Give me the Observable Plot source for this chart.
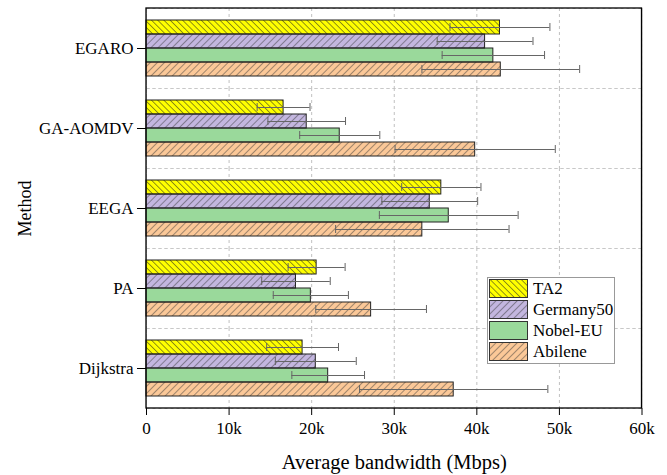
<!DOCTYPE html>
<html><head><meta charset="utf-8">
<script src="https://cdn.jsdelivr.net/npm/d3@7"></script>
<script src="https://cdn.jsdelivr.net/npm/@observablehq/plot@0.6"></script>
<style>
body{margin:0;background:#fff;}
#wrap{position:relative;width:667px;height:475px;}
#wrap svg text{font-family:"Liberation Serif","Times New Roman",Times,serif;}
#legend{position:absolute;left:487px;top:277px;width:128px;height:87px;border:1px solid #999;background:#fff;box-sizing:border-box;font-family:"Liberation Serif","Times New Roman",Times,serif;font-size:17px;padding:1px 0 0 1px;}
.row{display:flex;align-items:center;height:19px;margin-bottom:2px;}
.row span{font-family:"Liberation Serif","Times New Roman",Times,serif;font-size:17px;line-height:19px;}
.row svg{display:block;margin-right:5px;}
</style></head><body>
<svg width="0" height="0" style="position:absolute">
<defs>
<pattern id="hatchBack" patternUnits="userSpaceOnUse" width="4.4" height="4.4" patternTransform="rotate(-45)"><line x1="0" y1="0" x2="0" y2="4.4" stroke="#222" stroke-width="1"/></pattern>
<pattern id="hatchFwd" patternUnits="userSpaceOnUse" width="5" height="5" patternTransform="rotate(45)"><line x1="0" y1="0" x2="0" y2="5" stroke="#333" stroke-width="0.9"/></pattern>
</defs></svg>
<div id="wrap"><div id="legend"></div></div>
<script>
const methods = ["EGARO", "GA-AOMDV", "EEGA", "PA", "Dijkstra"];
const series = ["TA2", "Germany50", "Nobel-EU", "Abilene"];
const seriesColors = ["#ffff00", "#c3b6df", "#9ad99b", "#fbc898"];
const seriesHatch = ["url(#hatchBack)", "url(#hatchFwd)", null, "url(#hatchFwd)"];

const ta2Mean       = [42800, 16600, 35700, 20600, 18900];
const germany50Mean = [41000, 19400, 34300, 18100, 20500];
const nobelEuMean   = [42000, 23400, 36600, 19900, 22000];
const abileneMean   = [42900, 39800, 33400, 27200, 37200];

const ta2Err        = [6050, 3200, 4800, 3450, 4350];
const germany50Err  = [5800, 4700, 5800, 4150, 4900];
const nobelEuErr    = [6200, 4850, 8400, 4550, 4400];
const abileneErr    = [9550, 9700, 10500, 6700, 11400];

const xTicks = [0, 10000, 20000, 30000, 40000, 50000, 60000];
const xTitle = "Average bandwidth (Mbps)";
const yTitle = "Method";

const meansBySeries = [ta2Mean, germany50Mean, nobelEuMean, abileneMean];
const errsBySeries = [ta2Err, germany50Err, nobelEuErr, abileneErr];
const rows = [];
methods.forEach((m, i) => series.forEach((s, j) => rows.push({method: m, series: s, mean: meansBySeries[j][i], err: errsBySeries[j][i]})));

const hatchMarks = series.map((s, j) => seriesHatch[j] ? Plot.barX(rows.filter(d => d.series === s), {x: "mean", y: "series", fy: "method", fill: seriesHatch[j]}) : null).filter(Boolean);

const plot = Plot.plot({
  width: 667, height: 475,
  marginLeft: 146, marginRight: 25.5, marginTop: 8, marginBottom: 67,
  style: {fontFamily: "'Liberation Serif', 'Times New Roman', serif", fontSize: "17px", background: "#fff", color: "#000"},
  x: {domain: [0, 60000]},
  y: {domain: series, paddingInner: 0, paddingOuter: 0.857, axis: null},
  fy: {domain: methods, padding: 0},
  color: {domain: series, range: seriesColors},
  marks: [
    Plot.frame({stroke: "#c8c8c8", strokeDasharray: "3,3"}),
    Plot.gridX(xTicks, {stroke: "#c0c0c0", strokeOpacity: 1, strokeDasharray: "3,3"}),
    Plot.barX(rows, {x: "mean", y: "series", fy: "method", fill: "series"}),
    ...hatchMarks,
    Plot.barX(rows, {x: "mean", y: "series", fy: "method", fill: "none", stroke: "#222", strokeWidth: 1}),
    Plot.ruleY(rows, {x1: d => d.mean - d.err, x2: d => d.mean + d.err, y: "series", fy: "method", stroke: "#666", strokeWidth: 1}),
    Plot.tickX(rows, {x: d => d.mean - d.err, y: "series", fy: "method", stroke: "#666", insetTop: 3, insetBottom: 3}),
    Plot.tickX(rows, {x: d => d.mean + d.err, y: "series", fy: "method", stroke: "#666", insetTop: 3, insetBottom: 3}),
    Plot.axisX({anchor: "bottom", ticks: xTicks, tickFormat: d => d === 0 ? "0" : `${d / 1000}k`, tickSize: 7, tickPadding: 6, label: xTitle, labelAnchor: "center", labelOffset: 60}),
    Plot.axisFy({anchor: "left", tickSize: 9, tickPadding: 4, label: yTitle, labelAnchor: "center", labelOffset: 128})
  ]
});

const svg = d3.select(plot.tagName === "svg" ? plot : plot.querySelector("svg"));
svg.selectAll("text").each(function() {
  const t = this.textContent;
  if (t.includes("Average")) {
    d3.select(this).text(xTitle).style("font-size", "20.5px");
  } else if (t.includes(yTitle)) {
    d3.select(this).text(yTitle).style("font-size", "18px");
  }
});
const xs = plot.scale("x");
svg.append("rect")
  .attr("x", xs.range[0]).attr("y", 8)
  .attr("width", xs.range[1] - xs.range[0]).attr("height", 475 - 67 - 8)
  .attr("fill", "none").attr("stroke", "#000").attr("stroke-width", 1.3);

document.getElementById("wrap").prepend(plot);

const legend = d3.select("#legend");
series.forEach((s, j) => {
  const row = legend.append("div").attr("class", "row");
  const sw = row.append("svg").attr("width", 39).attr("height", 19);
  sw.append("rect").attr("x", 0.5).attr("y", 0.5).attr("width", 38).attr("height", 18).attr("fill", seriesColors[j]);
  if (seriesHatch[j]) sw.append("rect").attr("x", 0.5).attr("y", 0.5).attr("width", 38).attr("height", 18).attr("fill", seriesHatch[j]);
  sw.append("rect").attr("x", 0.5).attr("y", 0.5).attr("width", 38).attr("height", 18).attr("fill", "none").attr("stroke", "#333");
  row.append("span").text(s);
});
</script>
</body></html>
